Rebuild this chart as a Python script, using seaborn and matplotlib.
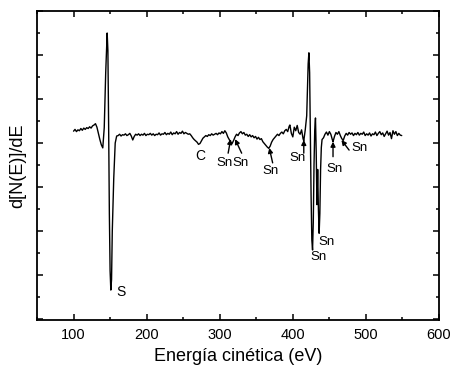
import matplotlib
matplotlib.use("Agg")
import matplotlib.pyplot as plt
import seaborn as sns
import pandas as pd
from matplotlib.ticker import MultipleLocator

# ---------------- data ----------------
energy_ev = [
    100, 102, 104, 106, 108, 110, 112, 114, 116, 118, 120, 122, 124, 126, 128, 130, 132, 134, 136, 138, 140,
    142, 144, 146, 147, 148, 149, 150, 151, 152, 153, 155, 157, 159,
    161, 163, 165, 167, 169, 171, 173, 175, 177, 179, 181, 183, 185, 187, 189, 191, 193, 195, 197, 199,
    201, 203, 205, 207, 209, 211, 213, 215, 217, 219, 221, 223, 225, 227, 229, 231, 233, 235, 237, 239,
    241, 243, 245, 247, 249, 251, 253, 255, 257, 259, 261, 263, 265, 267, 269, 271, 273, 275, 277, 279,
    281, 283, 285, 287, 289, 291, 293, 295, 297, 299, 301, 303, 305, 307, 309, 311, 313, 315, 317, 319,
    321, 323, 325, 327, 329, 331, 333, 335, 337, 339, 341, 343, 345, 347, 349, 351, 353, 355, 357, 359,
    361, 363, 365, 367, 369, 371, 373, 375, 377, 379, 381, 383, 385, 387, 389, 391, 393, 395, 396, 398,
    400, 402, 404, 406, 408, 410, 412, 414, 415, 417, 419, 420, 421, 422, 423, 424, 425, 426, 427, 428,
    429, 430, 431, 432, 433, 434, 435, 436, 437, 438, 439, 440, 442, 444, 446, 448, 450, 452, 454, 455,
    457, 459, 461, 463, 465, 467, 469, 471, 473, 475, 477, 479, 481, 483, 485, 487, 489, 491, 493, 495,
    497, 499, 501, 503, 505, 507, 509, 511, 513, 515, 517, 519, 521, 523, 525, 527, 529, 531, 533, 535,
    537, 539, 541, 543, 545, 547, 549,
]
dnde = [
    0.27, 0.31, 0.26, 0.30, 0.28, 0.33, 0.29, 0.34, 0.31, 0.35, 0.33, 0.37, 0.34, 0.39, 0.41, 0.44, 0.36, 0.22, 0.08, -0.04, -0.11,
    0.35, 1.60, 2.50, 2.10, 0.40, -1.60, -2.90, -3.34, -3.10, -2.00, -0.80, 0.00, 0.16,
    0.17, 0.20, 0.16, 0.19, 0.18, 0.21, 0.17, 0.19, 0.22, 0.16, 0.07, 0.15, 0.20, 0.18, 0.21, 0.17, 0.20, 0.18, 0.22, 0.17,
    0.20, 0.19, 0.22, 0.18, 0.21, 0.17, 0.20, 0.19, 0.23, 0.18, 0.21, 0.20, 0.24, 0.19, 0.22, 0.20, 0.25, 0.19, 0.23, 0.21,
    0.26, 0.20, 0.24, 0.22, 0.27, 0.21, 0.24, 0.22, 0.20, 0.21, 0.17, 0.12, 0.08, 0.05, 0.02, -0.03, -0.01, 0.05, 0.11, 0.14,
    0.17, 0.15, 0.19, 0.17, 0.21, 0.18, 0.20, 0.22, 0.19, 0.23, 0.21, 0.26, 0.22, 0.28, 0.23, 0.14, 0.08, 0.02, -0.01, 0.06,
    0.14, 0.20, 0.17, 0.23, 0.26, 0.21, 0.24, 0.18, 0.20, 0.15, 0.19, 0.14, 0.17, 0.12, 0.15, 0.09, 0.13, 0.08, 0.10, 0.03,
    -0.01, -0.05, -0.09, -0.12, -0.07, 0.02, 0.08, 0.12, 0.16, 0.20, 0.17, 0.22, 0.25, 0.21, 0.28, 0.31, 0.26, 0.38, 0.41, 0.22,
    0.14, 0.36, 0.28, 0.40, 0.24, 0.20, 0.30, 0.10, 0.05, 0.30, 0.62, 1.20, 1.80, 2.05, 1.60, 0.20, -1.20, -2.20, -2.43, -1.80,
    -0.50, 0.30, 0.57, -0.20, -1.40, -0.60, -1.50, -2.05, -1.60, -0.60, -0.10, 0.08, 0.12, 0.20, 0.25, 0.18, 0.26, 0.20, 0.08, 0.03,
    0.15, 0.24, 0.20, 0.26, 0.17, 0.10, 0.06, 0.16, 0.22, 0.18, 0.24, 0.20, 0.23, 0.17, 0.22, 0.19, 0.24, 0.18, 0.22, 0.20,
    0.25, 0.17, 0.21, 0.18, 0.23, 0.16, 0.21, 0.19, 0.25, 0.17, 0.22, 0.26, 0.19, 0.23, 0.15, 0.21, 0.27, 0.18, 0.24, 0.10,
    0.28, 0.20, 0.26, 0.17, 0.22, 0.18, 0.17,
]

# peak labels: text, label position, arrow tail/tip (None = no arrow)
peak_labels = ["S", "C", "Sn", "Sn", "Sn", "Sn", "Sn", "Sn", "Sn", "Sn"]
label_x = [165.5, 273, 307, 328, 370, 407, 435.6, 446, 457.4, 491.5]
label_y = [-3.39, -0.30, -0.45, -0.45, -0.63, -0.35, -2.58, -2.24, -0.58, -0.12]
arrow_tail_x = [None, None, 311.5, 330, 372.4, 415, None, None, 455, 477]
arrow_tail_y = [None, None, -0.23, -0.23, -0.45, -0.23, None, None, -0.31, -0.16]
arrow_tip_x = [None, None, 315, 321, 367.8, 415, None, None, 455, 466.5]
arrow_tip_y = [None, None, 0.09, 0.09, -0.11, 0.07, None, None, 0.03, 0.07]

x_ticks = [100, 200, 300, 400, 500, 600]

# ---------------- plot ----------------
sns.set_style("ticks")
plt.rcParams["font.family"] = ["Liberation Sans", "DejaVu Sans"]
plt.rcParams["text.color"] = "black"
plt.rcParams["axes.labelcolor"] = "black"

fig = plt.figure(figsize=(4.52, 3.71), dpi=100)
ax = fig.add_axes([37 / 452, 1 - 320 / 371, (439 - 37) / 452, (320 - 11) / 371])

df = pd.DataFrame({"E": energy_ev, "d": dnde})
sns.lineplot(data=df, x="E", y="d", ax=ax, color="black", linewidth=1.0,
             estimator=None, sort=False)

ax.set_xlim(50, 600)
ax.set_ylim(-4.02, 3.0)
ax.set_xticks(x_ticks)
ax.xaxis.set_minor_locator(MultipleLocator(50))
ax.yaxis.set_major_locator(MultipleLocator(1))
ax.yaxis.set_minor_locator(MultipleLocator(0.5))
ax.tick_params(which="both", direction="in", top=True, right=True, colors="black",
               labelcolor="black", labelsize=10.5, pad=6)
ax.tick_params(which="major", length=4, width=1.1)
ax.tick_params(which="minor", length=2.5, width=1.1)
ax.tick_params(axis="y", which="both", labelleft=False)
for s in ax.spines.values():
    s.set_linewidth(1.3)
    s.set_color("black")

ax.set_xlabel("Energía cinética (eV)", fontsize=13, labelpad=4, color="black")
ax.set_ylabel("d[N(E)]/dE", fontsize=13, labelpad=8, color="black")

for i, t in enumerate(peak_labels):
    fs = 10 if t in ("S", "C") else 9.5
    ax.text(label_x[i], label_y[i], t, ha="center", va="center", fontsize=fs, color="black")
    if arrow_tip_x[i] is not None:
        ax.annotate("", xy=(arrow_tip_x[i], arrow_tip_y[i]),
                    xytext=(arrow_tail_x[i], arrow_tail_y[i]),
                    arrowprops=dict(arrowstyle="-|>", color="black", lw=1.0,
                                    mutation_scale=7, shrinkA=0, shrinkB=0))

fig.savefig("out.png", dpi=100)
